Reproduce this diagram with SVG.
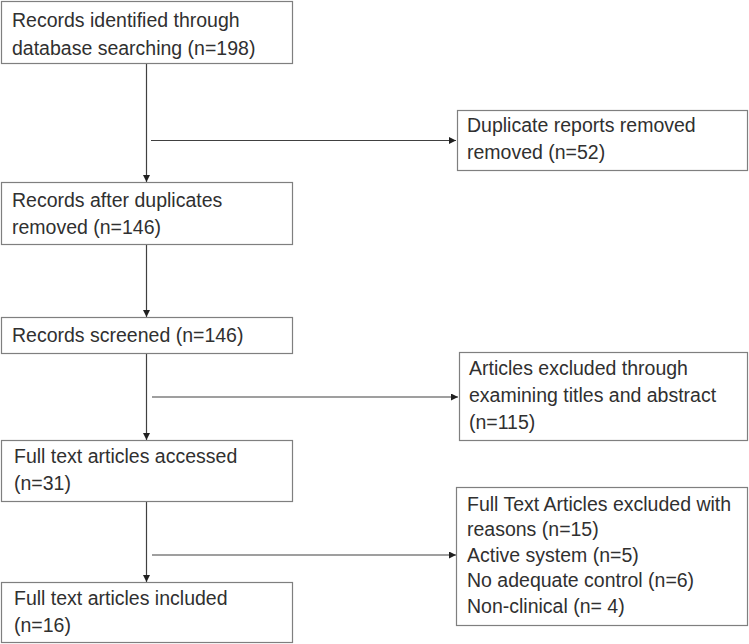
<svg xmlns="http://www.w3.org/2000/svg" width="749" height="644" viewBox="0 0 749 644">
<style>
.box{fill:#fff;stroke:#7f7f7f;stroke-width:1.2}
.t{font-family:"Liberation Sans",Arial,sans-serif;font-size:19.5px;fill:#303030}
.c{stroke:#404040;stroke-width:1.2;fill:none}
</style>
<defs>
<marker id="ah" viewBox="0 0 10 10" refX="10" refY="5" markerWidth="7" markerHeight="7" markerUnits="userSpaceOnUse" orient="auto">
<path d="M0,0 L10,5 L0,10 z" fill="#202020"/>
</marker>
</defs>
<rect width="749" height="644" fill="#fff"/>
<g id="connectors">
<line class="c" x1="146.5" y1="64" x2="146.5" y2="182" marker-end="url(#ah)"/>
<line class="c" x1="151" y1="140.5" x2="456" y2="140.5" marker-end="url(#ah)"/>
<line class="c" x1="146.5" y1="245" x2="146.5" y2="317" marker-end="url(#ah)"/>
<line class="c" x1="146.5" y1="353" x2="146.5" y2="440" marker-end="url(#ah)"/>
<line class="c" x1="152" y1="397" x2="458" y2="397" marker-end="url(#ah)"/>
<line class="c" x1="146.5" y1="501" x2="146.5" y2="582" marker-end="url(#ah)"/>
<line class="c" x1="152" y1="555" x2="456" y2="555" marker-end="url(#ah)"/>
</g>
<g id="n1"><rect class="box" x="1.5" y="1.5" width="291" height="62"/>
<text class="t" x="12" y="27">Records identified through</text>
<text class="t" x="12" y="55">database searching (n=198)</text></g>
<g id="n2"><rect class="box" x="457.5" y="110.5" width="290" height="60"/>
<text class="t" x="467" y="132">Duplicate reports removed</text>
<text class="t" x="467" y="159">removed (n=52)</text></g>
<g id="n3"><rect class="box" x="1.5" y="182.5" width="291" height="62"/>
<text class="t" x="12" y="207">Records after duplicates</text>
<text class="t" x="12" y="234">removed (n=146)</text></g>
<g id="n4"><rect class="box" x="1.5" y="317.5" width="291" height="36"/>
<text class="t" x="12" y="342">Records screened (n=146)</text></g>
<g id="n5"><rect class="box" x="459.5" y="352.5" width="288" height="88"/>
<text class="t" x="469" y="375">Articles excluded through</text>
<text class="t" x="469" y="402">examining titles and abstract</text>
<text class="t" x="469" y="429">(n=115)</text></g>
<g id="n6"><rect class="box" x="1.5" y="440.5" width="291" height="61"/>
<text class="t" x="14" y="463">Full text articles accessed</text>
<text class="t" x="14" y="490">(n=31)</text></g>
<g id="n7"><rect class="box" x="456.5" y="487.5" width="291" height="138"/>
<text class="t" x="467" y="511">Full Text Articles excluded with</text>
<text class="t" x="467" y="536">reasons (n=15)</text>
<text class="t" x="467" y="562">Active system (n=5)</text>
<text class="t" x="467" y="587">No adequate control (n=6)</text>
<text class="t" x="467" y="613">Non-clinical (n= 4)</text></g>
<g id="n8"><rect class="box" x="1.5" y="582.5" width="291" height="60"/>
<text class="t" x="14" y="605">Full text articles included</text>
<text class="t" x="14" y="632">(n=16)</text></g>
</svg>
